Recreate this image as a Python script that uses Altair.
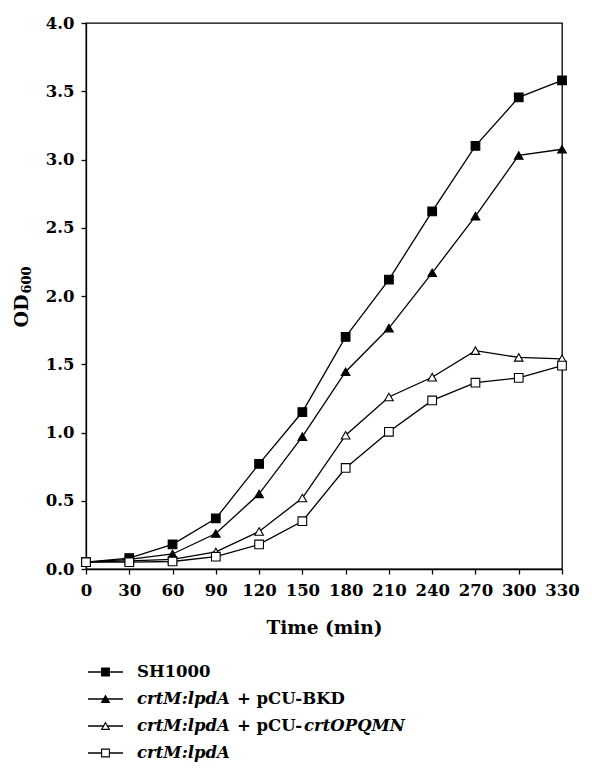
import altair as alt
import pandas as pd

# ---- data ----
time_min = [0, 30, 60, 90, 120, 150, 180, 210, 240, 270, 300, 330]
series_names = ["SH1000", "crtM:lpdA + pCU-BKD", "crtM:lpdA + pCU-crtOPQMN", "crtM:lpdA"]
sh1000 = [0.05, 0.08, 0.18, 0.37, 0.77, 1.15, 1.70, 2.12, 2.62, 3.10, 3.455, 3.58]
bkd = [0.05, 0.07, 0.11, 0.26, 0.55, 0.97, 1.445, 1.765, 2.17, 2.585, 3.03, 3.075]
opqmn = [0.05, 0.06, 0.07, 0.125, 0.275, 0.52, 0.98, 1.26, 1.405, 1.60, 1.55, 1.54]
lpda = [0.05, 0.05, 0.055, 0.09, 0.18, 0.35, 0.74, 1.005, 1.235, 1.365, 1.40, 1.49]
x_ticks = [0, 30, 60, 90, 120, 150, 180, 210, 240, 270, 300, 330]
y_ticks = [0.0, 0.5, 1.0, 1.5, 2.0, 2.5, 3.0, 3.5, 4.0]
series_shapes = ["square", "triangle-up", "triangle-up", "square"]
series_fills = ["black", "black", "white", "white"]

rows = []
for name, vals in zip(series_names, [sh1000, bkd, opqmn, lpda]):
    for t, v in zip(time_min, vals):
        rows.append({"series": name, "time": t, "od": v})
df = pd.DataFrame(rows)

FONT = "DejaVu Serif"
W, H = 476, 546

x_enc = alt.X("time:Q", scale=alt.Scale(domain=[0, 330], nice=False, zero=True),
              axis=alt.Axis(values=x_ticks, format="d", title="Time (min)",
                            labelOverlap=False, labelFlush=False))
y_scale = alt.Scale(domain=[0, 4], nice=False)

lines = alt.Chart(df).mark_line(color="black", strokeWidth=1.3).encode(
    x=x_enc,
    y=alt.Y("od:Q", scale=y_scale,
            axis=alt.Axis(values=y_ticks, format=".1f", title=None, labelOverlap=False, labelFlush=False)),
    detail="series:N",
)

shape_scale = alt.Scale(domain=series_names, range=series_shapes)
fill_scale = alt.Scale(domain=series_names, range=series_fills)

points = alt.Chart(df).mark_point(stroke="black", strokeWidth=1.1, opacity=1, size=75).encode(
    x=alt.X("time:Q", scale=alt.Scale(domain=[0, 330], nice=False)),
    y=alt.Y("od:Q", scale=y_scale, axis=None),
    shape=alt.Shape("series:N", scale=shape_scale, legend=None),
    fill=alt.Fill("series:N", scale=fill_scale, legend=None),
    order=alt.Order("order:Q"),
)
points = points.transform_calculate(
    order="indexof(%s, datum.series)" % str(series_names)
)

# ---- y axis title with subscript ----
ttl = pd.DataFrame({"t": ["OD"]})
od_txt = alt.Chart(ttl).mark_text(font=FONT, fontWeight="bold", fontSize=19, angle=270,
                                  align="center", baseline="middle", color="black").encode(
    x=alt.value(-64), y=alt.value(288), text="t:N")
ttl2 = pd.DataFrame({"t": ["600"]})
sub_txt = alt.Chart(ttl2).mark_text(font=FONT, fontWeight="bold", fontSize=13, angle=270,
                                    align="center", baseline="middle", color="black").encode(
    x=alt.value(-59), y=alt.value(257), text="t:N")

# ---- legend built from the series list ----
leg = pd.DataFrame({"series": series_names})
leg_y = alt.Y("series:N", sort=series_names,
              scale=alt.Scale(type="point", domain=series_names, range=[649, 730], padding=0),
              axis=None)

leg_rule = alt.Chart(leg).mark_rule(color="black", strokeWidth=1.3).encode(
    x=alt.value(2), x2=alt.value(37), y=leg_y)
leg_pts = alt.Chart(leg).mark_point(stroke="black", strokeWidth=1.1, opacity=1, size=60).encode(
    x=alt.value(19.5), y=leg_y,
    shape=alt.Shape("series:N", scale=shape_scale, legend=None),
    fill=alt.Fill("series:N", scale=fill_scale, legend=None))

txt_kw = dict(font=FONT, fontWeight="bold", fontSize=16.5, align="left", baseline="middle", color="black")
leg_t1 = alt.Chart(leg).transform_filter(alt.datum.series == series_names[0]).mark_text(**txt_kw).encode(
    x=alt.value(51), y=leg_y, text="series:N")
leg_t2 = alt.Chart(leg).transform_filter(alt.datum.series != series_names[0]).transform_calculate(
    lab="'crtM:lpdA'").mark_text(fontStyle="italic", **txt_kw).encode(
    x=alt.value(51), y=leg_y, text="lab:N")
leg_t3 = alt.Chart(leg).transform_filter(
    (alt.datum.series == series_names[1]) | (alt.datum.series == series_names[2])).transform_calculate(
    lab="replace(replace(datum.series, 'crtM:lpdA ', ''), 'crtOPQMN', '')").mark_text(**txt_kw).encode(
    x=alt.value(151), y=leg_y, text="lab:N")
leg_t4 = alt.Chart(leg).transform_filter(alt.datum.series == series_names[2]).transform_calculate(
    lab="'crtOPQMN'").mark_text(fontStyle="italic", **txt_kw).encode(
    x=alt.value(218), y=leg_y, text="lab:N")

chart = alt.layer(
    lines, points, od_txt, sub_txt,
    leg_rule, leg_pts, leg_t1, leg_t2, leg_t3, leg_t4,
).resolve_scale(y="independent").properties(
    width=W, height=H,
    autosize=alt.AutoSizeParams(type="none"),
    padding={"left": 78, "top": 15, "right": 22, "bottom": 202},
).configure_view(
    stroke="black", strokeWidth=1.3
).configure_axis(
    grid=False, labelFont=FONT, labelFontWeight="bold", labelFontSize=16.5, labelColor="black",
    titleFont=FONT, titleFontWeight="bold", titleFontSize=18.5, titleColor="black",
    domainColor="black", domainWidth=1.3, tickColor="black", tickWidth=1.3, tickSize=5,
).configure_axisX(
    labelPadding=8, titlePadding=20,
).configure_axisY(
    labelPadding=7,
)

chart.save("out.html", embed_options={"renderer": "svg", "actions": False})
